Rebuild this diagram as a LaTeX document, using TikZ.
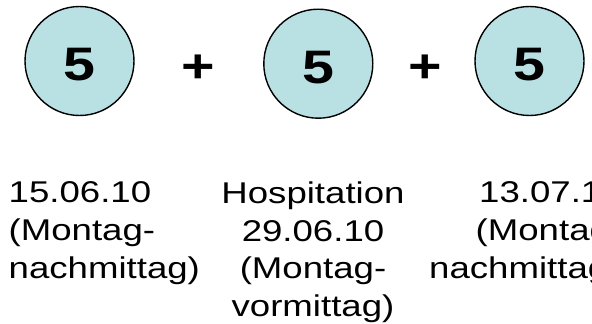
\documentclass[tikz,border=0pt]{standalone}
\usepackage{fontspec}
\newfontfamily\widefont[FakeStretch=1.22]{Liberation Sans}
\definecolor{numfill}{RGB}{185,224,227}
\tikzset{
    numcirc/.style={circle, draw, line width=1.4pt, fill=numfill, minimum size=109pt, inner sep=0pt,
        text height=39pt, text depth=0pt, font=\widefont\bfseries\fontsize{47}{47}\selectfont},
    plussign/.style={anchor=base, inner sep=0pt, font=\widefont\bfseries\fontsize{47}{47}\selectfont},
    datetext/.style={inner sep=0pt, font=\widefont\fontsize{30}{37.8}\selectfont}
}
\begin{document}
\begin{tikzpicture}[x=1pt, y=-1pt]
    \clip (0, 0) rectangle (592, 324);

    \foreach \i/\x/\y in {1/79.5/61, 2/318.3/63.7, 3/529.5/61}
    {\node[numcirc] (n\i) at (\x, \y) {5};}

    \node[plussign] (p1) at (198.5, 82) {+};
    \node[plussign] (p2) at (425, 82) {+};

    % base anchor = baseline of the last line
    \node[datetext, anchor=base west, align=left] (t1) at (8.5, 278.3)
        {15.06.10\\(Montag-\\nachmittag)};
    \node[datetext, anchor=base, align=center] (t2) at (313, 316.7)
        {Hospitation\\29.06.10\\(Montag-\\vormittag)};
    \node[datetext, anchor=base west, align=left] (t3) at (429, 278.3)
        {\hspace*{50pt}13.07.10\\\hspace*{46.5pt}(Montag-\\nachmittag)};
\end{tikzpicture}
\end{document}
